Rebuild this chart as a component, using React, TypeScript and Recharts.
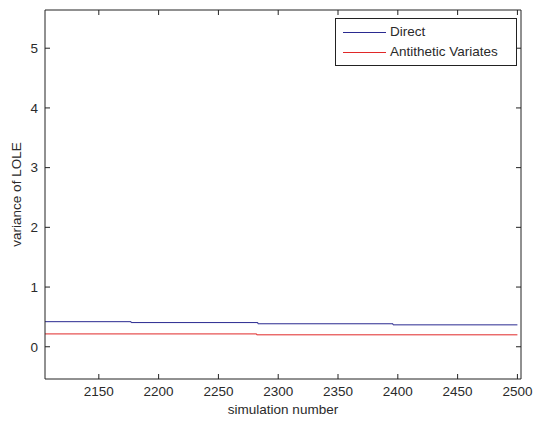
import { LineChart, Line, XAxis, YAxis, Legend } from "recharts";

// step points (value holds until the next point)
const directX = [2105, 2177, 2283, 2396, 2500];
const directY = [0.42, 0.405, 0.385, 0.367, 0.367];
const antitheticX = [2105, 2282, 2500];
const antitheticY = [0.215, 0.2, 0.2];

const xTicks = [2150, 2200, 2250, 2300, 2350, 2400, 2450, 2500];
const yTicks = [0, 1, 2, 3, 4, 5];

const directData = directX.map((x, i) => ({ x, y: directY[i] }));
const antitheticData = antitheticX.map((x, i) => ({ x, y: antitheticY[i] }));

const font = "'Liberation Sans', Arial, sans-serif";
const tickStyle = { fontSize: 13.5, fill: "#2a2a2a", fontFamily: font };
const noLabel = () => <g />;

const legendBox = () => (
  <div
    style={{
      boxSizing: "border-box",
      width: 182,
      border: "1px solid #222",
      background: "#fff",
      padding: "3px 6px 3px 7px",
      fontFamily: font,
      fontSize: 13.5,
      color: "#2a2a2a",
      lineHeight: "20px",
      textAlign: "left",
      whiteSpace: "nowrap",
    }}
  >
    {[
      { name: "Direct", color: "#2a2a90" },
      { name: "Antithetic Variates", color: "#e02828" },
    ].map((item) => (
      <div key={item.name} style={{ display: "flex", alignItems: "center" }}>
        <span
          style={{
            display: "inline-block",
            width: 43,
            height: 1,
            background: item.color,
            marginRight: 4,
          }}
        />
        {item.name}
      </div>
    ))}
  </div>
);

export default function App() {
  return (
    <div style={{ position: "fixed", top: 0, left: 0, background: "#fff" }}>
      <LineChart
        width={533}
        height={427}
        margin={{ top: 9, right: 11, bottom: 0, left: 0 }}
      >
        <XAxis
          xAxisId="bottom"
          type="number"
          dataKey="x"
          domain={[2105, 2503]}
          ticks={xTicks}
          allowDataOverflow
          height={48}
          tick={tickStyle}
          tickSize={-5}
          tickMargin={12}
          stroke="#222"
          label={{
            value: "simulation number",
            position: "insideBottom",
            offset: 13,
            style: tickStyle,
          }}
        />
        <XAxis
          xAxisId="top"
          orientation="top"
          type="number"
          dataKey="x"
          domain={[2105, 2503]}
          ticks={xTicks}
          allowDataOverflow
          height={1}
          tick={noLabel}
          tickSize={-5}
          stroke="#222"
        />
        <YAxis
          yAxisId="left"
          type="number"
          domain={[-0.54, 5.64]}
          ticks={yTicks}
          allowDataOverflow
          width={45}
          tick={tickStyle}
          tickSize={-5}
          tickMargin={12}
          stroke="#222"
          label={{
            value: "variance of LOLE",
            angle: -90,
            position: "insideLeft",
            offset: 16,
            style: { ...tickStyle, textAnchor: "middle" },
          }}
        />
        <YAxis
          yAxisId="right"
          orientation="right"
          type="number"
          domain={[-0.54, 5.64]}
          ticks={yTicks}
          allowDataOverflow
          width={1}
          tick={noLabel}
          tickSize={-5}
          stroke="#222"
        />
        <Legend
          content={legendBox}
          layout="vertical"
          verticalAlign="middle"
          align="center"
          wrapperStyle={{ top: 18, left: 335, width: 182 }}
        />
        <Line
          xAxisId="bottom"
          yAxisId="left"
          data={directData}
          dataKey="y"
          name="Direct"
          type="stepAfter"
          stroke="#2a2a90"
          strokeWidth={1}
          dot={false}
          isAnimationActive={false}
        />
        <Line
          xAxisId="bottom"
          yAxisId="left"
          data={antitheticData}
          dataKey="y"
          name="Antithetic Variates"
          type="stepAfter"
          stroke="#e02828"
          strokeWidth={1}
          dot={false}
          isAnimationActive={false}
        />
      </LineChart>
    </div>
  );
}
